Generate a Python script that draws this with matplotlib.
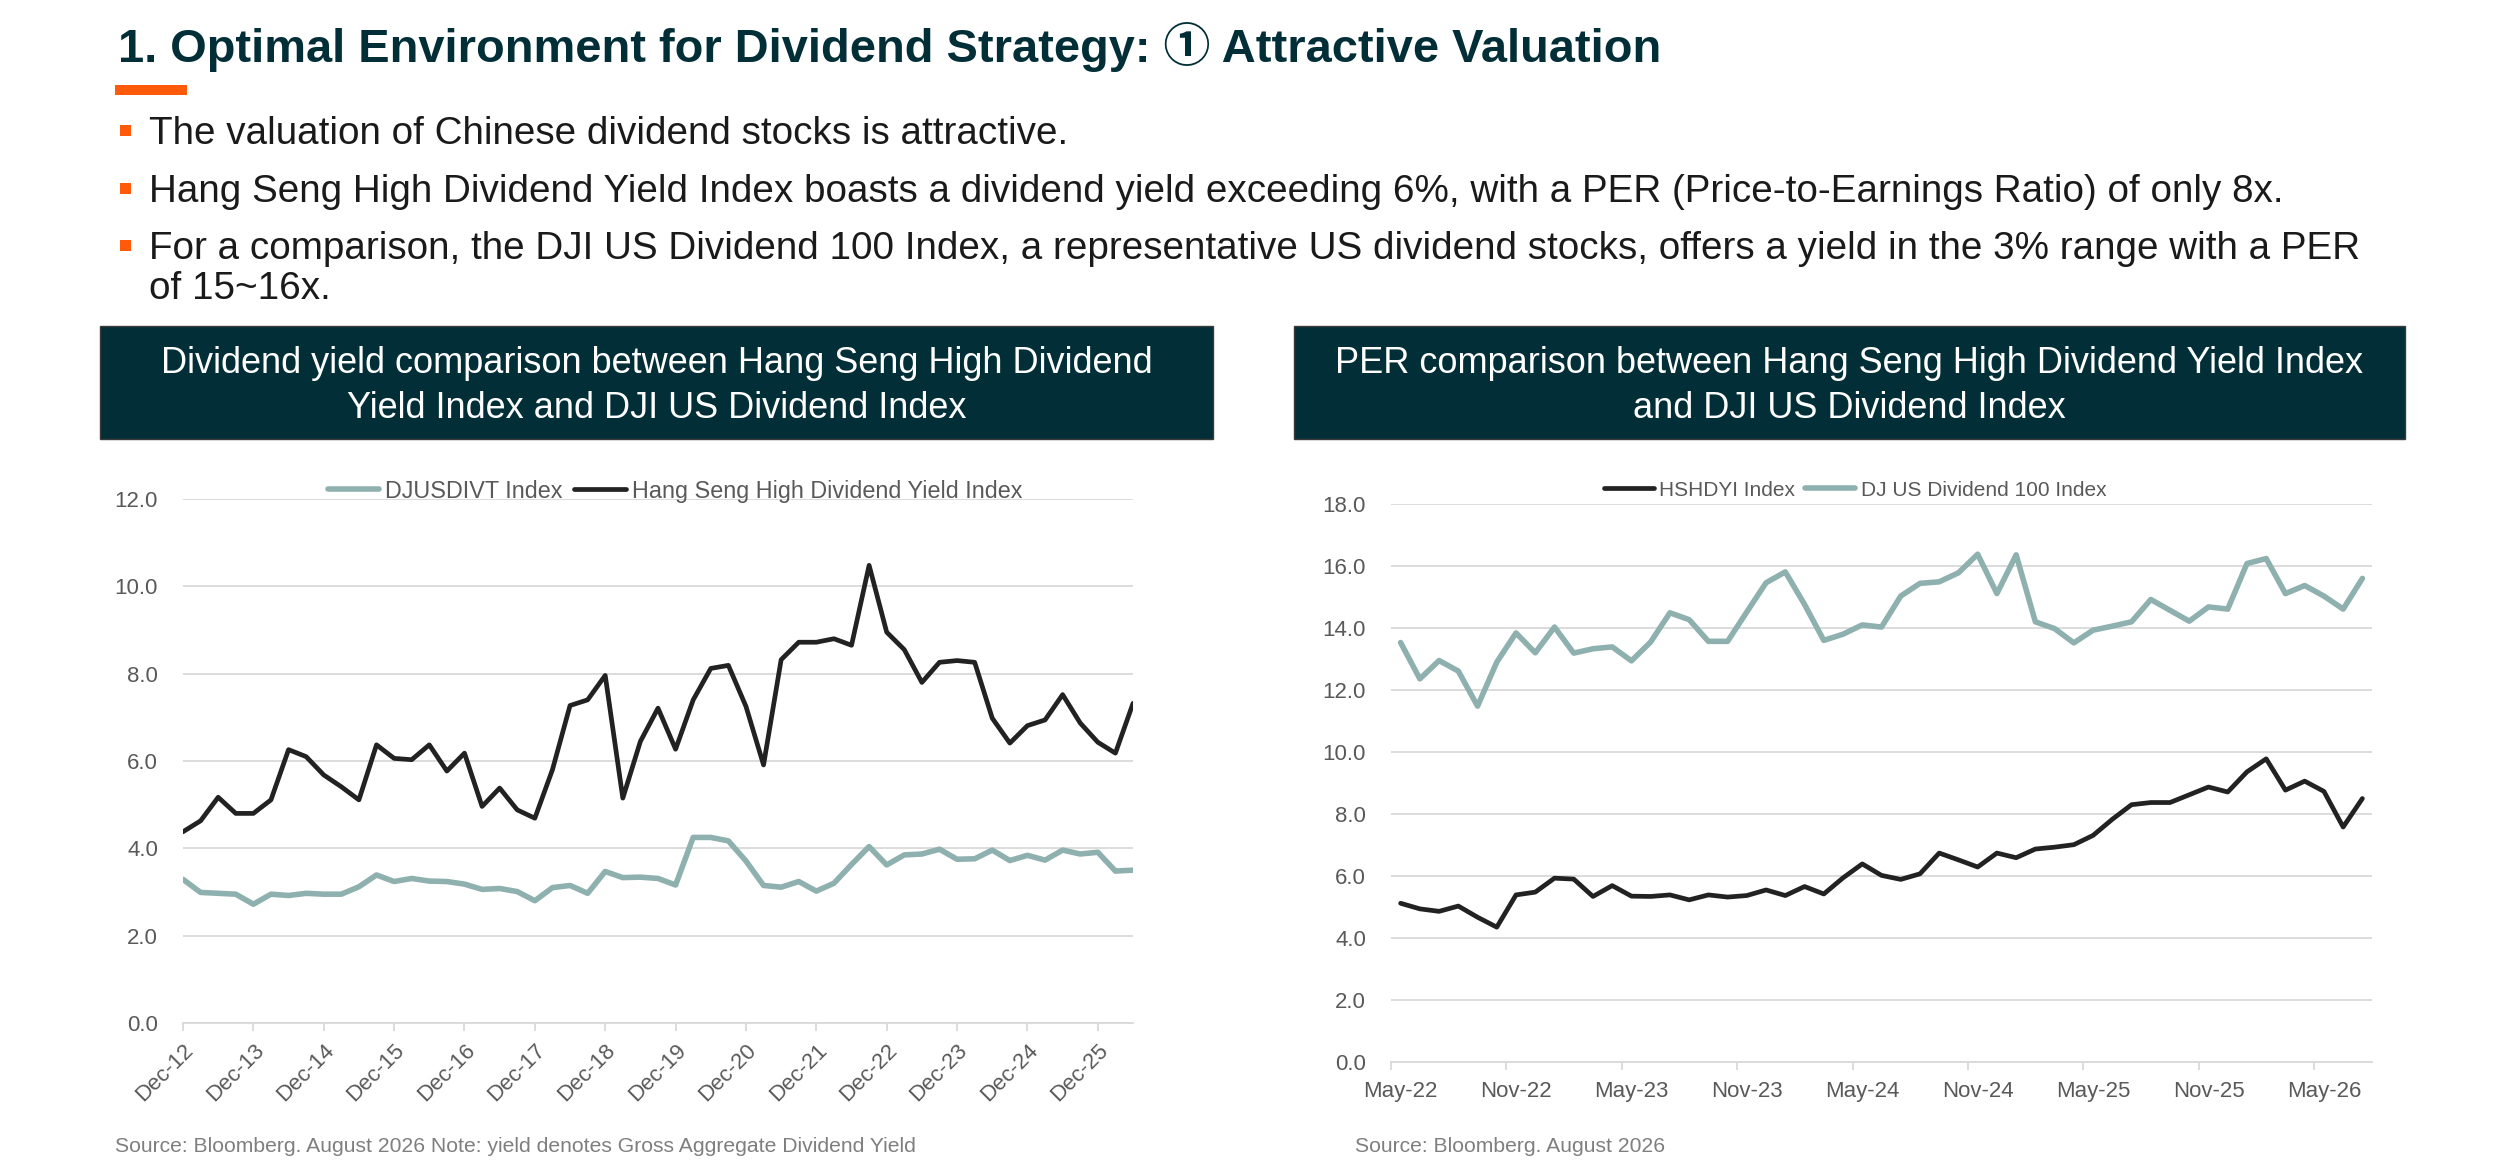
import matplotlib
matplotlib.use('Agg')
import numpy as np
import matplotlib.pyplot as plt
from matplotlib.patches import Rectangle

plt.rcParams['font.family'] = ['Liberation Sans', 'Noto Sans CJK SC', 'DejaVu Sans']

W, H = 2500, 1163

# ------------------------------------------------------------
# Data
# ------------------------------------------------------------
# left chart: quarterly, Dec-12 .. Jun-26
yield_labels = ['Dec-12', 'Dec-13', 'Dec-14', 'Dec-15', 'Dec-16', 'Dec-17', 'Dec-18',
                'Dec-19', 'Dec-20', 'Dec-21', 'Dec-22', 'Dec-23', 'Dec-24', 'Dec-25']
djusdivt_yield = [3.29, 2.99, 2.97, 2.95, 2.72, 2.95, 2.92, 2.97, 2.95, 2.95,
                  3.12, 3.39, 3.24, 3.31, 3.25, 3.24, 3.18, 3.06, 3.08, 3.01,
                  2.80, 3.10, 3.15, 2.97, 3.47, 3.33, 3.34, 3.31, 3.16, 4.25,
                  4.25, 4.17, 3.71, 3.15, 3.11, 3.24, 3.02, 3.20, 3.63, 4.04,
                  3.62, 3.85, 3.87, 3.98, 3.75, 3.76, 3.96, 3.72, 3.84, 3.73,
                  3.96, 3.87, 3.91, 3.48, 3.50]
hshdyi_yield = [4.38, 4.63, 5.17, 4.80, 4.80, 5.11, 6.26, 6.10, 5.68, 5.41,
                5.11, 6.37, 6.06, 6.03, 6.37, 5.77, 6.18, 4.96, 5.38, 4.88,
                4.69, 5.80, 7.27, 7.40, 7.96, 5.15, 6.45, 7.21, 6.27, 7.40,
                8.12, 8.19, 7.25, 5.91, 8.32, 8.72, 8.72, 8.80, 8.65, 10.48,
                8.95, 8.55, 7.80, 8.26, 8.30, 8.26, 6.98, 6.41, 6.81, 6.94,
                7.52, 6.87, 6.43, 6.18, 7.32]

# right chart: monthly, May-22 .. Jul-26
per_labels = ['May-22', 'Nov-22', 'May-23', 'Nov-23', 'May-24', 'Nov-24',
              'May-25', 'Nov-25', 'May-26']
hshdyi_per = [5.12, 4.94, 4.86, 5.03, 4.67, 4.35, 5.39, 5.48, 5.93, 5.90,
              5.34, 5.69, 5.35, 5.34, 5.39, 5.23, 5.39, 5.32, 5.37, 5.55,
              5.37, 5.66, 5.42, 5.94, 6.39, 6.02, 5.89, 6.07, 6.74, 6.52,
              6.29, 6.74, 6.59, 6.87, 6.93, 7.01, 7.31, 7.83, 8.30, 8.37,
              8.37, 8.62, 8.87, 8.71, 9.36, 9.78, 8.77, 9.06, 8.73, 7.58,
              8.50]
djus100_per = [13.53, 12.36, 12.95, 12.61, 11.48, 12.90, 13.84, 13.20, 14.03, 13.19,
               13.33, 13.39, 12.94, 13.55, 14.49, 14.27, 13.57, 13.57, 14.52, 15.46,
               15.81, 14.76, 13.60, 13.80, 14.10, 14.03, 15.03, 15.44, 15.49, 15.78,
               16.38, 15.11, 16.36, 14.20, 13.98, 13.52, 13.93, 14.06, 14.20, 14.92,
               14.57, 14.22, 14.68, 14.61, 16.08, 16.24, 15.11, 15.37, 15.03, 14.61,
               15.60]

title = '1. Optimal Environment for Dividend Strategy: \u2460 Attractive Valuation'
# each bullet is a list of its wrapped lines
bullets = [
    ['The valuation of Chinese dividend stocks is attractive.'],
    ['Hang Seng High Dividend Yield Index boasts a dividend yield exceeding 6%, '
     'with a PER (Price-to-Earnings Ratio) of only 8x.'],
    ['For a comparison, the DJI US Dividend 100 Index, a representative US dividend '
     'stocks, offers a yield in the 3% range with a PER',
     'of 15~16x.'],
]

DARK = '#022F37'
ORANGE = '#FF5A0A'
GREEN = '#8EB0AE'
BLACK = '#222222'
TICK = '#595959'
GRID = '#D9D9D9'


def fx(x):
    return x / W


def fy(y):
    return 1 - y / H


def box(x0, y0, x1, y1, **kw):
    """Rectangle in pixel coords (top-left origin) on the figure."""
    fig.patches.append(Rectangle((fx(x0), fy(y1)), fx(x1 - x0), (y1 - y0) / H,
                                 transform=fig.transFigure, **kw))


fig = plt.figure(figsize=(W / 100, H / 100), dpi=100)

# ------------------------------------------------------------
# Heading and bullets
# ------------------------------------------------------------
fig.text(fx(118), fy(62), title, fontsize=33.8, fontweight='bold', color=DARK, va='baseline')
box(115, 85, 187, 95, color=ORANGE, lw=0)

baselines = [[144], [202], [259, 299]]
for lines, ys in zip(bullets, baselines):
    box(120, ys[0] - 19, 131, ys[0] - 8, color=ORANGE, lw=0)
    for txt, y in zip(lines, ys):
        fig.text(fx(149), fy(y), txt, fontsize=27.8, color='#1A1A1A', va='baseline')

# header boxes
headers = [
    (100, 1213, 'Dividend yield comparison between Hang Seng High Dividend\n'
                'Yield Index and DJI US Dividend Index'),
    (1294, 2405, 'PER comparison between Hang Seng High Dividend Yield Index\n'
                 'and DJI US Dividend Index'),
]
for x0, x1, txt in headers:
    box(x0, 326, x1, 439, facecolor=DARK, edgecolor='#3A3A3A', lw=1)
    fig.text(fx((x0 + x1) / 2), fy(386), txt, fontsize=26, color='white',
             ha='center', va='center', linespacing=1.35)


def style_axes(ax, ymax):
    ax.set_ylim(0, ymax)
    ax.set_yticks(np.arange(0, ymax + 0.1, 2))
    ax.set_yticklabels([f'{v:.1f}' for v in np.arange(0, ymax + 0.1, 2)])
    ax.grid(axis='y', color=GRID, lw=1.3)
    ax.set_axisbelow(True)
    for s in ['top', 'right', 'left']:
        ax.spines[s].set_visible(False)
    ax.spines['bottom'].set_color(GRID)
    ax.spines['bottom'].set_linewidth(1.3)
    ax.tick_params(axis='y', length=0, pad=18, labelsize=16, labelcolor=TICK)
    ax.tick_params(axis='x', which='both', color=GRID, width=1.3, labelsize=16,
                   labelcolor=TICK)


LEG = dict(loc='center', ncol=2, frameon=False, labelcolor=TICK, handletextpad=0.25,
           columnspacing=0.5, borderpad=0)

# ------------------------------------------------------------
# Left: dividend yield
# ------------------------------------------------------------
ax1 = fig.add_axes([fx(183), fy(1023), fx(1133 - 183), 524 / H])
q = np.arange(len(hshdyi_yield))
ax1.plot(q, djusdivt_yield, color=GREEN, lw=4, label='DJUSDIVT Index',
         solid_capstyle='round', solid_joinstyle='round')
ax1.plot(q, hshdyi_yield, color=BLACK, lw=3.4, label='Hang Seng High Dividend Yield Index',
         solid_capstyle='round', solid_joinstyle='round')
style_axes(ax1, 12)
ax1.set_xlim(0, len(q) - 1)
ax1.set_xticks(np.arange(0, 4 * len(yield_labels), 4))
ax1.set_xticklabels(yield_labels, rotation=45, ha='right', rotation_mode='anchor')
ax1.tick_params(axis='x', length=6, pad=6)
ax1.legend(bbox_to_anchor=(0.518, 1.015), fontsize=16.8, handlelength=2.2, **LEG)

# ------------------------------------------------------------
# Right: PER
# ------------------------------------------------------------
ax2 = fig.add_axes([fx(1391), fy(1062), fx(2372 - 1391), 558 / H])
m = np.arange(len(hshdyi_per))
ax2.plot(m, hshdyi_per, color=BLACK, lw=3.4, label='HSHDYI Index',
         solid_capstyle='round', solid_joinstyle='round')
ax2.plot(m, djus100_per, color=GREEN, lw=4, label='DJ US Dividend 100 Index',
         solid_capstyle='round', solid_joinstyle='round')
style_axes(ax2, 18)
ax2.set_xlim(-0.5, len(m) - 0.5)
ax2.set_xticks(np.arange(0, 6 * len(per_labels), 6))
ax2.set_xticklabels(per_labels)
ax2.set_xticks(np.arange(-0.5, 6 * len(per_labels) - 0.5, 6), minor=True)
ax2.tick_params(axis='x', which='major', length=0, pad=14)
ax2.tick_params(axis='x', which='minor', length=6)
ax2.legend(bbox_to_anchor=(0.473, 1.025), fontsize=15, handlelength=2.4, **LEG)

# sources
fig.text(fx(115), fy(1146), 'Source: Bloomberg. August 2026 Note: yield denotes Gross '
         'Aggregate Dividend Yield', fontsize=15.2, color='#7F7F7F', va='center')
fig.text(fx(1355), fy(1146), 'Source: Bloomberg. August 2026', fontsize=15.2,
         color='#7F7F7F', va='center')

fig.savefig('out.png', dpi=100)
